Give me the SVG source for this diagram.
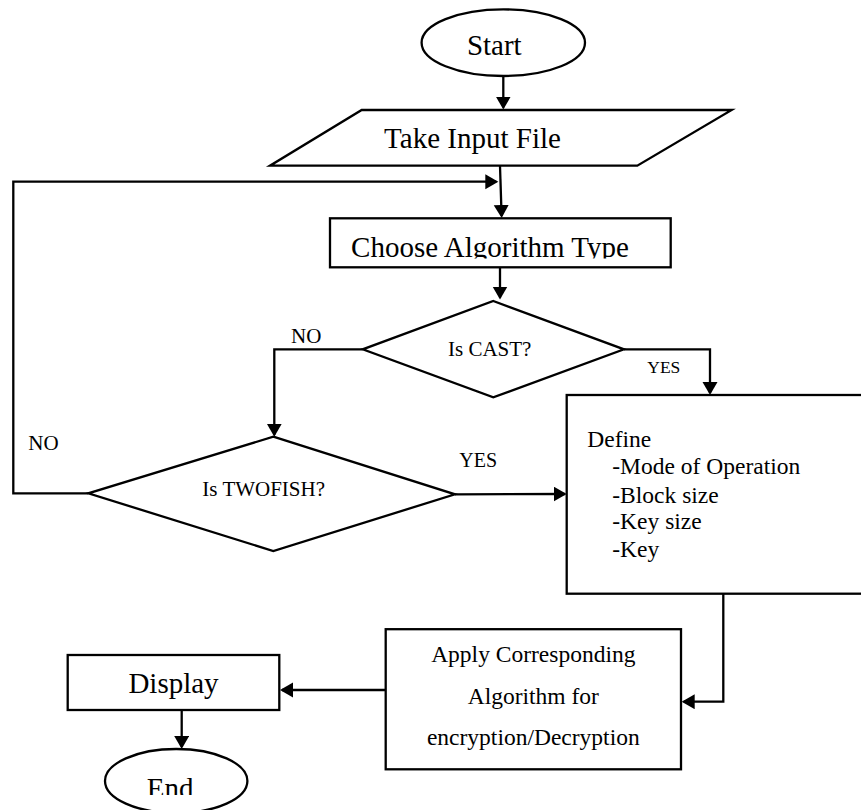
<svg xmlns="http://www.w3.org/2000/svg" width="861" height="810" viewBox="0 0 861 810">
  <style>
    .shape { fill: #fff; stroke: #000; stroke-width: 2.3; }
    .edge { fill: none; stroke: #000; stroke-width: 2.3; }
    text { font-family: "Liberation Serif", "Times New Roman", serif; fill: #000; }
    .big { font-size: 29px; }
    .mid { font-size: 23.5px; }
    .small { font-size: 21px; }
  </style>
  <defs>
    <marker id="arrow" markerUnits="userSpaceOnUse" markerWidth="14" markerHeight="16" refX="11" refY="7.5" orient="auto">
      <path d="M0,0 L13,7.5 L0,15 z" fill="#000"/>
    </marker>
    <clipPath id="clipChoose"><rect x="330" y="218" width="341" height="40.5"/></clipPath>
    <clipPath id="clipEnd"><rect x="100" y="745" width="160" height="50"/></clipPath>
  </defs>
  <rect width="861" height="810" fill="#fff"/>

  <g id="start">
    <ellipse class="shape" cx="503.3" cy="42.7" rx="81.7" ry="33.3"/>
    <text class="big" x="494.3" y="55" text-anchor="middle">Start</text>
  </g>

  <g id="input">
    <polygon class="shape" points="361.7,110 731.7,110 637.3,165.7 270,165.7"/>
    <text class="big" x="472.5" y="148.3" text-anchor="middle">Take Input File</text>
  </g>

  <g id="choose">
    <rect class="shape" x="330" y="218.3" width="340.7" height="49"/>
    <text class="big" x="490" y="256.5" text-anchor="middle" clip-path="url(#clipChoose)">Choose Algorithm Type</text>
  </g>

  <g id="is-cast">
    <polygon class="shape" points="493.3,301 624,349.3 493.3,397.3 362.7,349.3"/>
    <text class="small" x="489.7" y="356" text-anchor="middle">Is CAST?</text>
  </g>

  <g id="is-twofish">
    <polygon class="shape" points="273.3,436.7 455,494.3 273.3,551 88.3,493.3"/>
    <text class="small" x="263.7" y="496" text-anchor="middle">Is TWOFISH?</text>
  </g>

  <g id="define">
    <rect class="shape" x="566.7" y="395" width="310" height="198.7"/>
    <text class="mid" x="587.3" y="447.3">Define</text>
    <text class="mid" x="612.3" y="474">-Mode of Operation</text>
    <text class="mid" x="612.3" y="502.7">-Block size</text>
    <text class="mid" x="612.3" y="529.3">-Key size</text>
    <text class="mid" x="612.3" y="556.7">-Key</text>
  </g>

  <g id="apply">
    <rect class="shape" x="385.7" y="629.2" width="295.3" height="140.1"/>
    <text class="mid" x="533.3" y="661.7" text-anchor="middle">Apply Corresponding</text>
    <text class="mid" x="533.3" y="704" text-anchor="middle">Algorithm for</text>
    <text class="mid" x="533.3" y="745" text-anchor="middle">encryption/Decryption</text>
  </g>

  <g id="display">
    <rect class="shape" x="67.7" y="655" width="211.6" height="55"/>
    <text class="big" x="173.5" y="693.3" text-anchor="middle">Display</text>
  </g>

  <g id="end">
    <ellipse class="shape" cx="176.2" cy="781" rx="71.2" ry="32"/>
    <text class="big" x="170.2" y="797.5" text-anchor="middle" clip-path="url(#clipEnd)">End</text>
  </g>

  <g id="connectors">
    <line class="edge" x1="503.3" y1="76" x2="503.3" y2="107.5" marker-end="url(#arrow)"/>
    <line class="edge" x1="500" y1="166" x2="501.6" y2="216" marker-end="url(#arrow)"/>
    <polyline class="edge" points="88.3,493.3 13.3,493.3 13.3,181.7 496.3,181.7" marker-end="url(#arrow)"/>
    <line class="edge" x1="500" y1="267.3" x2="500" y2="297.5" marker-end="url(#arrow)"/>
    <polyline class="edge" points="362.7,349.3 274.3,349.3 274.3,434.7" marker-end="url(#arrow)"/>
    <polyline class="edge" points="624,349.3 710,349.3 710,393" marker-end="url(#arrow)"/>
    <line class="edge" x1="455" y1="494.3" x2="564.7" y2="494" marker-end="url(#arrow)"/>
    <polyline class="edge" points="723.3,594 723.3,701.7 683.7,701.7" marker-end="url(#arrow)"/>
    <line class="edge" x1="385.7" y1="690" x2="282" y2="690" marker-end="url(#arrow)"/>
    <line class="edge" x1="181.7" y1="710" x2="181.7" y2="747" marker-end="url(#arrow)"/>
  </g>

  <g id="labels">
    <text class="small" x="291" y="342.7" font-size="22">NO</text>
    <text class="small" x="28.3" y="450" font-size="22">NO</text>
    <text x="647.3" y="372.7" font-size="17.5">YES</text>
    <text x="459.3" y="466.7" font-size="20">YES</text>
  </g>
</svg>
